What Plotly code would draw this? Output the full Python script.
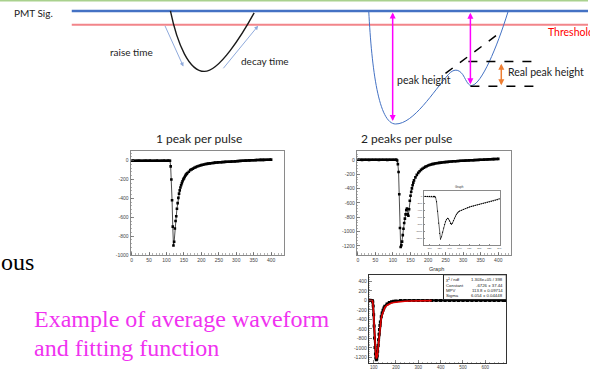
import plotly.graph_objects as go

W, H = 590, 374

# ---------------- data ----------------
# sample grid of the waveforms (ns)
t_wave = list(range(0, 110, 4)) + list(range(110, 162, 2)) + list(range(164, 404, 4))

# 1 peak per pulse (ADC)
v_one = ([0, 1, 0, -1, 0, 1, 0, 0, -1, 0, 1, 0, 0, 1, 0, -1, 0, 0, 1, 0, 0, -1, 0, 1, 0, 0, 1, 0]
         + [0, -60, -200, -420, -700, -900, -860, -720, -640, -590, -510, -450, -395, -350, -315,
            -285, -260, -238, -218, -200, -188, -173, -160, -148, -138, -130]
         + [-118, -100, -92, -84, -75, -68, -62, -56, -51, -47, -44, -40, -36, -34, -31, -29, -27,
            -25, -23, -21, -20, -18, -17, -16, -15, -14, -13, -12, -11, -11, -10, -9, -8, -7, -6,
            -5, -4, -2, -1, 0, 1, 1, 2, 3, 3, 4, 5, 5, 6, 7, 7, 8, 8, 9, 9, 10, 10, 10, 11, 11])

# 2 peaks per pulse (ADC)
v_two = ([0, 1, 0, -1, 0, 1, 0, 0, -1, 0, 1, 0, 0, 1, 0, -1, 0, 0, 1, 0, 0, -1, 0, 1, 0, 0, 1, 0]
         + [0, -10, -60, -170, -480, -950, -1215, -1190, -1140, -1050, -960, -880, -820, -760, -700,
            -680, -760, -780, -690, -570, -500, -445, -398, -355, -318, -287]
         + [-245, -210, -182, -160, -140, -124, -110, -99, -89, -80, -73, -66, -60, -56, -52, -48,
            -45, -42, -39, -37, -34, -32, -30, -28, -26, -24, -23, -21, -20, -19, -17, -16, -14,
            -13, -12, -11, -10, -9, -8, -7, -6, -5, -4, -3, -2, -1, 0, 1, 2, 3, 4, 5, 6, 7, 8, 9,
            10, 11, 12, 13])

# inset "Graph": a single two-peak pulse
t_inset = list(range(88, 110, 4)) + list(range(110, 162, 2)) + list(range(164, 244, 4))
v_inset = ([0, 0, 0, 0, 0, 0]
           + [0, -20, -150, -420, -760, -1050, -1215, -1150, -1020, -900, -800, -720, -660, -625,
              -640, -700, -770, -790, -760, -690, -620, -560, -510, -470, -440, -420]
           + [-396, -370, -345, -320, -300, -285, -270, -255, -240, -225, -210, -196, -182, -168,
              -154, -140, -126, -110, -92, -70])

# average waveform and Landau fit
t_avg = [80, 84, 88, 92, 94, 96, 98, 100, 102, 104, 106, 108, 110, 112, 114, 116, 118, 120, 122,
         124, 126, 128, 130, 134, 138, 142, 146, 150, 160, 170, 180, 190, 200, 220, 240, 260,
         280, 300, 320, 340, 360, 380, 400, 420, 440, 460, 480, 500, 520, 540, 560, 580, 600,
         620, 640, 660, 680, 690]
v_avg = [0, 2, 0, -2, -8, -35, -120, -300, -540, -790, -990, -1130, -1215, -1250, -1235, -1170,
         -1070, -950, -830, -715, -615, -530, -455, -345, -265, -205, -160, -125, -75, -45, -28,
         -17, -10, -4, -1, 0, 0, 0, 0, 0, 0, 0, 0, 0, 0, 0, 0, 0, 0, 0, 0, 0, 0, 0, 0, 0, 0, 0]
t_fit = [80, 92, 94, 96, 98, 100, 102, 104, 106, 108, 110, 112, 114, 116, 118, 120, 122, 124,
         126, 128, 130, 134, 138, 142, 146, 150, 160, 170, 180, 190, 200, 220, 240, 260, 280,
         300, 330, 360]
v_fit = [0, -1, -4, -27, -100, -270, -500, -740, -930, -1076, -1170, -1212, -1210, -1180, -1085,
         -975, -860, -740, -640, -550, -470, -370, -300, -245, -200, -150, -100, -72, -55, -43,
         -35, -24, -17, -13, -10, -8, -6, -4]

stat_names = ["\u03c7\u00b2 / ndf", "Constant", "MPV", "Sigma"]
stat_values = ["1.303e+05 / 398", "-6726 \u00b1 37.44", "113.8 \u00b1 0.09714", "6.054 \u00b1 0.04448"]

x_ticks_main = [0, 50, 100, 150, 200, 250, 300, 350, 400]
y_ticks_one = [0, -200, -400, -600, -800, -1000]
y_ticks_two = [0, -200, -400, -600, -800, -1000, -1200]
x_ticks_fit = [100, 200, 300, 400, 500, 600]
y_ticks_fit = [400, 200, 0, -200, -400, -600, -800, -1000, -1200]
x_ticks_inset = [100, 120, 140, 160, 180, 200, 220, 240]
y_ticks_inset = [0, -200, -400, -600, -800, -1000, -1200]


# ---------------- helpers ----------------
def px(x):
    return x / W


def py(y):
    return 1 - y / H


def lab(v):
    return [str(a) for a in v]


def axis(dom, rng, vals, fs=5, minor=None, color="#8a8a8a", anchor=None):
    d = dict(domain=dom, range=rng, tickmode="array", tickvals=vals, ticktext=lab(vals),
             ticks="inside", ticklen=3, tickwidth=0.7, tickcolor="#555",
             tickfont=dict(size=fs, color="#444", family="Liberation Sans"),
             showline=True, linecolor=color, linewidth=1, mirror=True,
             showgrid=False, zeroline=False, fixedrange=True)
    if minor:
        d["minor"] = dict(ticks="inside", ticklen=1.5, tickwidth=0.5, tickcolor="#666",
                          tickmode="linear", dtick=minor, showgrid=False)
    if anchor:
        d["anchor"] = anchor
    return d


fig = go.Figure()

mk = dict(color="black", size=2.6, symbol="square")
fig.add_trace(go.Scatter(x=t_wave, y=v_one, mode="lines+markers", line=dict(color="black", width=0.7),
                         marker=mk, xaxis="x", yaxis="y"))
fig.add_trace(go.Scatter(x=t_wave, y=v_two, mode="lines+markers", line=dict(color="black", width=0.7),
                         marker=mk, xaxis="x2", yaxis="y2"))
fig.add_trace(go.Scatter(x=t_inset, y=v_inset, mode="lines+markers", line=dict(color="black", width=0.6),
                         marker=dict(color="black", size=1.2), xaxis="x3", yaxis="y3"))
fig.add_trace(go.Scatter(x=t_avg, y=v_avg, mode="lines+markers", line=dict(color="black", width=2.2),
                         marker=dict(color="black", size=3, symbol="square"), xaxis="x4", yaxis="y4"))
fig.add_trace(go.Scatter(x=t_fit, y=v_fit, mode="lines", line=dict(color="#e00000", width=1.6),
                         xaxis="x4", yaxis="y4"))

fig.update_layout(
    width=W, height=H, margin=dict(l=0, r=0, t=0, b=0),
    paper_bgcolor="white", plot_bgcolor="rgba(0,0,0,0)", showlegend=False,
    xaxis=axis([px(131), px(285)], [-3, 437], x_ticks_main, minor=10, anchor="y"),
    yaxis=axis([py(257), py(152)], [-1000, 105], y_ticks_one, minor=40, anchor="x"),
    xaxis2=axis([px(358), px(513)], [-3, 437], x_ticks_main, minor=10, anchor="y2"),
    yaxis2=axis([py(257), py(152)], [-1326, 126], y_ticks_two, minor=40, anchor="x2"),
    xaxis3=axis([px(425), px(502)], [88, 242], x_ticks_inset, fs=2.5, anchor="y3"),
    yaxis3=axis([py(247), py(193)], [-1385, 141], y_ticks_inset, fs=2.5, anchor="x3"),
    xaxis4=axis([px(370), px(508)], [78, 694], x_ticks_fit, fs=4.5, minor=20, color="#333", anchor="y4"),
    yaxis4=axis([py(366), py(277)], [-1320, 540], y_ticks_fit, minor=40, color="#333", anchor="x4"),
)
fig.update_layout(xaxis3=dict(ticklen=1.5), yaxis3=dict(ticklen=1.5),
                  xaxis4=dict(ticklabelstandoff=0))

shapes = []


def line(x0, y0, x1, y1, color, width, dash="solid"):
    shapes.append(dict(type="line", xref="paper", yref="paper", x0=px(x0), y0=py(y0),
                       x1=px(x1), y1=py(y1), line=dict(color=color, width=width, dash=dash)))


def bez(start, segs, color, width):
    s = "M%.5f,%.5f" % (px(start[0]), py(start[1]))
    for c1, c2, p in segs:
        s += " C%.5f,%.5f %.5f,%.5f %.5f,%.5f" % (px(c1[0]), py(c1[1]), px(c2[0]), py(c2[1]),
                                                   px(p[0]), py(p[1]))
    shapes.append(dict(type="path", xref="paper", yref="paper", path=s,
                       line=dict(color=color, width=width)))


# slide decoration and schematic
line(0, 0.6, 590, 0.6, "#a9d18e", 2)
line(72, 11, 590, 11, "#4472c4", 2.5)
line(72, 25, 590, 25, "#f2858a", 2)
bez((171, 11), [((178, 45), (190, 72), (205, 72)), ((220, 72), (243, 35), (255, 13))], "#1a1a1a", 1.4)
bez((370, 11), [((373, 70), (380, 125), (397, 125)),
                ((415, 125), (435, 92), (450, 75)),
                ((456, 68), (462, 70), (466, 78)),
                ((469, 84), (471, 87), (474, 86)),
                ((483, 84), (498, 50), (510, 11))], "#4472c4", 1)
line(447, 74, 503, 32, "black", 1.5, "dash")
line(470, 62, 540, 62, "black", 1.5, "dash")
line(472, 87, 537, 87, "black", 1.5, "dash")
# stats box of the fit
shapes.append(dict(type="rect", xref="paper", yref="paper", x0=px(445), y0=py(302), x1=px(508),
                   y1=py(277), fillcolor="white", line=dict(color="#222", width=1)))
fig.update_layout(shapes=shapes)

ann = []


def arrow(x0, y0, x1, y1, color, width, both=False, head=2, size=0.8):
    ann.append(dict(xref="paper", yref="paper", x=px(x1), y=py(y1), ax=x0 - x1, ay=y0 - y1,
                    axref="pixel", ayref="pixel", text="", showarrow=True, arrowhead=head,
                    startarrowhead=head, arrowsize=size, startarrowsize=size,
                    arrowwidth=width, arrowcolor=color, standoff=0, startstandoff=0,
                    arrowside="end+start" if both else "end"))


def text(x, y, s, size, color="#222", family="Lato", anchor="center"):
    ann.append(dict(xref="paper", yref="paper", x=px(x), y=py(y), text=s, showarrow=False,
                    xanchor=anchor, yanchor="middle", borderpad=0,
                    font=dict(size=size, color=color, family=family)))


arrow(165, 25, 184, 67, "#8faadc", 1)
arrow(223, 70, 259, 26, "#8faadc", 1)
arrow(394, 12, 394, 122, "#ff00ff", 1.5, both=True)
arrow(472, 12, 472, 85, "#ff00ff", 1.5, both=True)
arrow(503, 63, 503, 86, "#ed7d31", 1.5, both=True)

text(34, 13, "PMT Sig.", 10)
text(132, 52, "raise time", 10)
text(266, 61, "decay time", 10)
text(425, 81, "peak height", 10.5)
text(548, 73, "Real peak height", 10.5)
text(549, 32, "Threshold", 10.5, color="#ff0000", anchor="left")
text(200, 140, "1 peak per pulse", 12)
text(408, 140, "2 peaks per pulse", 12)
text(438, 271, "Graph", 5.5, color="#333", family="Liberation Sans")
text(461, 189, "Graph", 3, color="#333", family="Liberation Sans")
text(0, 264, "ous", 24, color="black", family="Liberation Serif", anchor="left")
text(33, 322, "Example of average waveform", 24, color="#f032f0", family="Liberation Serif", anchor="left")
text(33, 351, "and fitting function", 24, color="#f032f0", family="Liberation Serif", anchor="left")

rows_y = [282, 287.5, 293, 298]
for name, val, yy in zip(stat_names, stat_values, rows_y):
    text(447, yy, name, 4.3, color="#222", family="Liberation Sans", anchor="left")
    text(506, yy, val, 4.3, color="#222", family="Liberation Sans", anchor="right")

fig.update_layout(annotations=ann)
fig.write_html("out.html", config={"displayModeBar": False, "staticPlot": True},
               post_script="document.body.style.margin='0';document.body.style.overflow='hidden';")
